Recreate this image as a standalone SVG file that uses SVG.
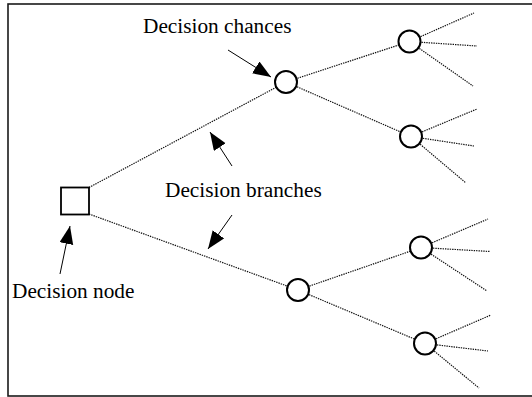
<svg xmlns="http://www.w3.org/2000/svg" width="532" height="397" viewBox="0 0 532 397">
  <style>
    .frame { fill: none; stroke: #1a1a1a; stroke-width: 1.6; }
    .branch { stroke: #111; stroke-width: 1.2; stroke-dasharray: 1.4 1; fill: none; }
    .pointer { stroke: #000; stroke-width: 1; fill: none; marker-end: url(#head); }
    .chance { fill: #fff; stroke: #000; stroke-width: 2; }
    .decision { fill: #fff; stroke: #000; stroke-width: 1.8; }
    .label { font-family: "Liberation Serif", "Times New Roman", serif; font-size: 21.3px; fill: #000; }
  </style>
  <defs>
    <marker id="head" markerUnits="userSpaceOnUse" markerWidth="20" markerHeight="16" refX="18" refY="7" orient="auto">
      <path d="M0,0 L18,7 L0,14 Z" fill="#000"/>
    </marker>
  </defs>

  <rect class="frame" x="8" y="4" width="530" height="392"/>

  <g id="connectors">
    <!-- decision node to chance nodes -->
    <line class="branch" x1="89" y1="187.5" x2="286" y2="82"/>
    <line class="branch" x1="89" y1="214" x2="298" y2="290"/>
    <!-- first-level chances to second-level chances -->
    <line class="branch" x1="286" y1="82" x2="409.5" y2="41.5"/>
    <line class="branch" x1="286" y1="82" x2="411" y2="136.5"/>
    <line class="branch" x1="298" y1="290" x2="421" y2="247.5"/>
    <line class="branch" x1="298" y1="290" x2="425" y2="343.5"/>
    <!-- outcome branches -->
    <line class="branch" x1="409.5" y1="41.5" x2="474" y2="13"/>
    <line class="branch" x1="409.5" y1="41.5" x2="477" y2="46"/>
    <line class="branch" x1="409.5" y1="41.5" x2="473" y2="86"/>
    <line class="branch" x1="411" y1="136.5" x2="477" y2="109"/>
    <line class="branch" x1="411" y1="136.5" x2="474" y2="146"/>
    <line class="branch" x1="411" y1="136.5" x2="466" y2="183"/>
    <line class="branch" x1="421" y1="247.5" x2="488" y2="219"/>
    <line class="branch" x1="421" y1="247.5" x2="490" y2="251.5"/>
    <line class="branch" x1="421" y1="247.5" x2="487" y2="291"/>
    <line class="branch" x1="425" y1="343.5" x2="491" y2="315"/>
    <line class="branch" x1="425" y1="343.5" x2="488" y2="351"/>
    <line class="branch" x1="425" y1="343.5" x2="479" y2="388"/>
    <!-- label pointers -->
    <line class="pointer" x1="228" y1="50" x2="271" y2="77"/>
    <line class="pointer" x1="232" y1="166" x2="210" y2="132"/>
    <line class="pointer" x1="232" y1="215" x2="208" y2="249"/>
    <line class="pointer" x1="60" y1="274" x2="70" y2="226"/>
  </g>

  <g id="decision-node">
    <rect class="decision" x="61" y="187.5" width="28" height="27"/>
  </g>
  <g id="chance-1"><circle class="chance" cx="286" cy="82" r="11"/></g>
  <g id="chance-2"><circle class="chance" cx="409.5" cy="41.5" r="11"/></g>
  <g id="chance-3"><circle class="chance" cx="411" cy="136.5" r="11"/></g>
  <g id="chance-4"><circle class="chance" cx="298" cy="290" r="11"/></g>
  <g id="chance-5"><circle class="chance" cx="421" cy="247.5" r="11"/></g>
  <g id="chance-6"><circle class="chance" cx="425" cy="343.5" r="11"/></g>

  <g id="labels">
    <text class="label" x="143" y="33">Decision chances</text>
    <text class="label" x="165" y="197">Decision branches</text>
    <text class="label" x="12" y="298">Decision node</text>
  </g>
</svg>
